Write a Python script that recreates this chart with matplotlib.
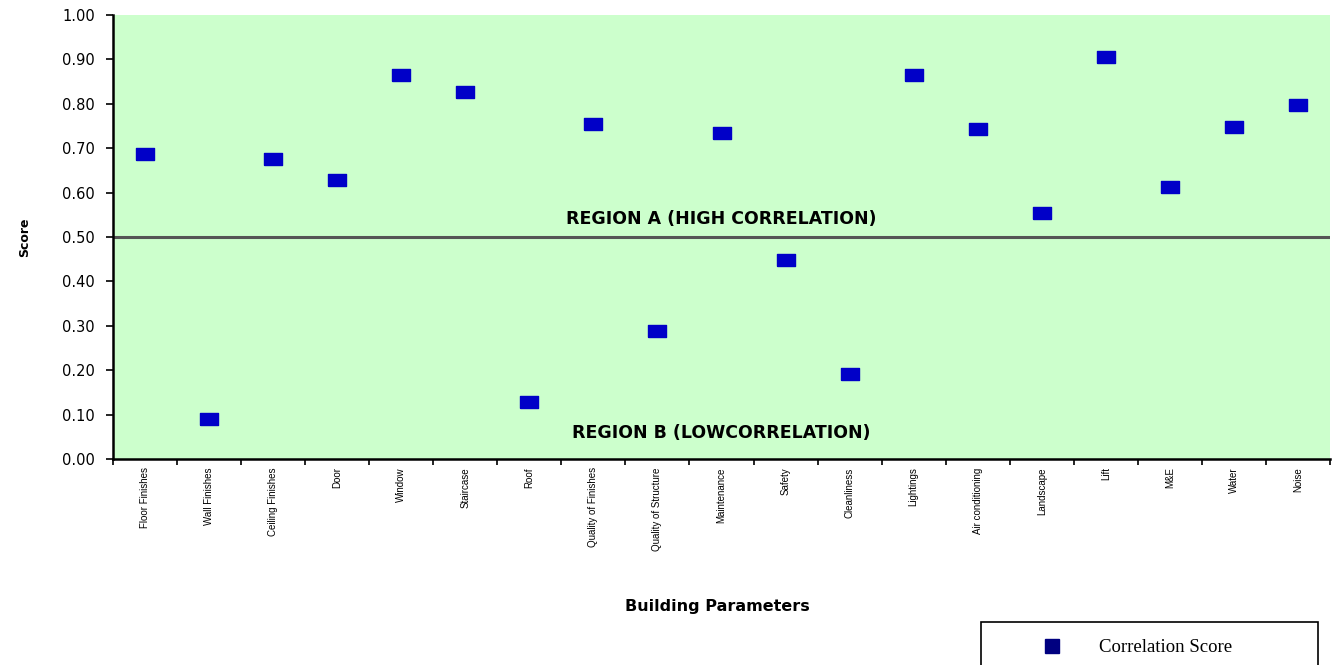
import numpy as np
import matplotlib.pyplot as plt
from matplotlib.patches import Rectangle

#   Data
params = ["Floor Finishes", "Wall Finishes", "Ceiling Finishes", "Door", "Window",
          "Staircase", "Roof", "Quality of Finishes", "Quality of Structure",
          "Maintenance", "Safety", "Cleanliness", "Lightings", "Air conditioning",
          "Landscape", "Lift", "M&E", "Water", "Noise"]
scores = [0.687, 0.090, 0.676, 0.628, 0.865, 0.827, 0.128, 0.755, 0.288, 0.734,
          0.448, 0.191, 0.865, 0.743, 0.554, 0.905, 0.613, 0.748, 0.797]
yticks = [0.0, 0.1, 0.2, 0.3, 0.4, 0.5, 0.6, 0.7, 0.8, 0.9, 1.0]
threshold = 0.50

plt.rcParams['font.family'] = ['DejaVu Sans']

W, H = 1336, 665
fig = plt.figure(figsize=(W/100, H/100), dpi=100)
ax = fig.add_axes([113/W, 1-459/H, (1330-113)/W, (459-15)/H])
ax.set_facecolor("#ccffcc")

rect = [(-1.5, -1), (1.5, -1), (1.5, 1), (-1.5, 1), (-1.5, -1)]
x = np.arange(len(params))
ax.plot(x, scores, linestyle="none", marker=rect, markersize=12.5,
        markerfacecolor="#0000c8", markeredgecolor="#0000c8")

ax.axhline(threshold, color="#555555", lw=2.2)
ax.text(9.0, 0.54, "REGION A (HIGH CORRELATION)", ha="center", va="center",
        fontsize=12.5, fontweight="bold")
ax.text(9.0, 0.058, "REGION B (LOWCORRELATION)", ha="center", va="center",
        fontsize=12.5, fontweight="bold")

ax.set_xlim(-0.5, len(params)-0.5)
ax.set_ylim(0, 1)
ax.set_yticks(yticks)
ax.set_yticklabels([f"{v:.2f}" for v in yticks], fontsize=10.5)
ax.set_xticks(np.arange(len(params)+1) - 0.5, minor=False)
ax.set_xticklabels([])
ax.set_xticks(x, minor=True)
ax.set_xticklabels(params, minor=True, rotation=90, fontsize=7,
                   family="Liberation Sans", va="top")
ax.tick_params(axis="x", which="minor", length=0, pad=6)
ax.tick_params(axis="x", which="major", length=4, width=1.2)
ax.tick_params(axis="y", length=5, width=1.2, pad=8)

for s in ["top", "right"]:
    ax.spines[s].set_visible(False)
for s in ["left", "bottom"]:
    ax.spines[s].set_linewidth(1.8)

ax.set_ylabel("Score", fontsize=9, fontweight="bold", labelpad=22)
ax.set_xlabel("Building Parameters", fontsize=11.5, fontweight="bold")
ax.xaxis.set_label_coords(0.497, -0.315)

#   Legend box, partly cut off by the bottom edge as in the reference
fig.patches.append(Rectangle((981/W, -0.02), 337/W, 0.02 + 43/H,
                             transform=fig.transFigure, facecolor="white",
                             edgecolor="black", lw=1.2))
fig.lines.append(plt.Line2D([1052/W], [1-646/H], transform=fig.transFigure,
                            linestyle="none", marker="s", markersize=10,
                            markerfacecolor="#000080", markeredgecolor="#000080"))
fig.text(1099/W, 1-647/H, "Correlation Score", ha="left", va="center",
         family="Liberation Serif", fontsize=13.5)

fig.savefig("out.png", dpi=100)
